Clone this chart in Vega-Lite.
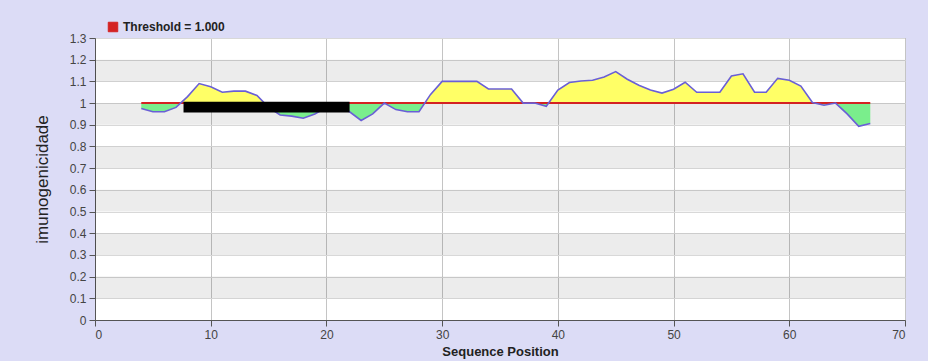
{
  "$schema": "https://vega.github.io/schema/vega-lite/v6.json",
  "autosize": {"type": "none"},
  "width": 810,
  "height": 282,
  "padding": {"left": 95, "top": 38, "right": 23, "bottom": 41},
  "background": "#dcdcf6",
  "config": {
    "font": "Liberation Sans",
    "view": {"stroke": "#6e6e6e", "strokeWidth": 1, "fill": "#ffffff"},
    "axis": {
      "labelFont": "Liberation Sans",
      "labelFontSize": 12,
      "labelColor": "#444444",
      "labelOverlap": false,
      "domainColor": "#555555",
      "tickColor": "#555555",
      "tickSize": 6,
      "gridColor": "#c4c4c4",
      "gridWidth": 1,
      "titleFont": "Liberation Sans",
      "titleColor": "#222222"
    },
    "axisY": {
      "format": "~g",
      "gridColor": "#d8d8d8",
      "titleFontSize": 17,
      "titleFontWeight": "normal",
      "titlePadding": 18,
      "labelPadding": 3
    }
  },
  "datasets": {
    "score": [
      {"pos": 4, "value": 0.975}, {"pos": 5, "value": 0.96}, {"pos": 6, "value": 0.96}, {"pos": 7, "value": 0.98},
      {"pos": 8, "value": 1.03}, {"pos": 9, "value": 1.09}, {"pos": 10, "value": 1.075}, {"pos": 11, "value": 1.05},
      {"pos": 12, "value": 1.055}, {"pos": 13, "value": 1.055}, {"pos": 14, "value": 1.035}, {"pos": 15, "value": 0.98},
      {"pos": 16, "value": 0.945}, {"pos": 17, "value": 0.94}, {"pos": 18, "value": 0.93}, {"pos": 19, "value": 0.95},
      {"pos": 20, "value": 0.98}, {"pos": 21, "value": 0.99}, {"pos": 22, "value": 0.96}, {"pos": 23, "value": 0.92},
      {"pos": 24, "value": 0.95}, {"pos": 25, "value": 1.0}, {"pos": 26, "value": 0.97}, {"pos": 27, "value": 0.96},
      {"pos": 28, "value": 0.96}, {"pos": 29, "value": 1.04}, {"pos": 30, "value": 1.1}, {"pos": 31, "value": 1.1},
      {"pos": 32, "value": 1.1}, {"pos": 33, "value": 1.1}, {"pos": 34, "value": 1.065}, {"pos": 35, "value": 1.065},
      {"pos": 36, "value": 1.065}, {"pos": 37, "value": 1.0}, {"pos": 38, "value": 1.0}, {"pos": 39, "value": 0.985},
      {"pos": 40, "value": 1.06}, {"pos": 41, "value": 1.095}, {"pos": 42, "value": 1.102}, {"pos": 43, "value": 1.105},
      {"pos": 44, "value": 1.12}, {"pos": 45, "value": 1.145}, {"pos": 46, "value": 1.11}, {"pos": 47, "value": 1.082},
      {"pos": 48, "value": 1.06}, {"pos": 49, "value": 1.046}, {"pos": 50, "value": 1.064}, {"pos": 51, "value": 1.096},
      {"pos": 52, "value": 1.05}, {"pos": 53, "value": 1.05}, {"pos": 54, "value": 1.05}, {"pos": 55, "value": 1.125},
      {"pos": 56, "value": 1.135}, {"pos": 57, "value": 1.05}, {"pos": 58, "value": 1.05}, {"pos": 59, "value": 1.114},
      {"pos": 60, "value": 1.105}, {"pos": 61, "value": 1.078}, {"pos": 62, "value": 1.003}, {"pos": 63, "value": 0.99},
      {"pos": 64, "value": 1.0}, {"pos": 65, "value": 0.95}, {"pos": 66, "value": 0.893}, {"pos": 67, "value": 0.906}
    ],
    "bands": [
      {"lo": 0.1, "hi": 0.2}, {"lo": 0.3, "hi": 0.4}, {"lo": 0.5, "hi": 0.6},
      {"lo": 0.7, "hi": 0.8}, {"lo": 0.9, "hi": 1.0}, {"lo": 1.1, "hi": 1.2}
    ]
  },
  "layer": [
    {
      "data": {"name": "bands"},
      "mark": {"type": "rect", "fill": "#000000", "fillOpacity": 0.075},
      "encoding": {
        "y": {
          "field": "lo", "type": "quantitative",
          "scale": {"domain": [0, 1.3], "nice": false, "zero": true},
          "axis": {"values": [0, 0.1, 0.2, 0.3, 0.4, 0.5, 0.6, 0.7, 0.8, 0.9, 1, 1.1, 1.2, 1.3], "grid": true, "title": "imunogenicidade"}
        },
        "y2": {"field": "hi"},
        "x": {"datum": 0, "type": "quantitative", "scale": {"domain": [0, 70], "nice": false},
          "axis": {
            "values": [0, 10, 20, 30, 40, 50, 60, 70],
            "grid": true,
            "title": "Sequence Position",
            "titleFontSize": 13,
            "titleFontWeight": "bold",
            "titlePadding": 5,
            "labelPadding": 3
          }
        },
        "x2": {"datum": 70}
      }
    },
    {
      "data": {"name": "score"},
      "mark": {
        "type": "area",
        "fill": {
          "gradient": "linear", "x1": 0, "y1": 0, "x2": 0, "y2": 1,
          "stops": [
            {"offset": 0, "color": "#ffff66"},
            {"offset": 0.5754, "color": "#ffff66"},
            {"offset": 0.5754, "color": "#7aee8c"},
            {"offset": 1, "color": "#7aee8c"}
          ]
        },
        "fillOpacity": 1
      },
      "encoding": {
        "x": {"field": "pos", "type": "quantitative", "axis": {"values": [0, 10, 20, 30, 40, 50, 60, 70], "grid": true, "title": "Sequence Position"}},
        "y": {"field": "value", "type": "quantitative", "axis": {"values": [0, 0.1, 0.2, 0.3, 0.4, 0.5, 0.6, 0.7, 0.8, 0.9, 1, 1.1, 1.2, 1.3], "grid": true, "title": "imunogenicidade"}},
        "y2": {"datum": 1}
      }
    },
    {
      "data": {"name": "score"},
      "mark": {"type": "rule", "strokeWidth": 2},
      "encoding": {
        "x": {"aggregate": "min", "field": "pos", "type": "quantitative", "axis": {"values": [0, 10, 20, 30, 40, 50, 60, 70], "grid": true, "title": "Sequence Position"}},
        "x2": {"aggregate": "max", "field": "pos"},
        "y": {"datum": 1, "type": "quantitative", "axis": {"values": [0, 0.1, 0.2, 0.3, 0.4, 0.5, 0.6, 0.7, 0.8, 0.9, 1, 1.1, 1.2, 1.3], "grid": true, "title": "imunogenicidade"}},
        "color": {
          "datum": "Threshold  = 1.000",
          "type": "nominal",
          "scale": {"range": ["#d42222"]},
          "legend": {
            "title": null,
            "orient": "none",
            "legendX": 12,
            "legendY": -17,
            "symbolType": "square",
            "symbolSize": 90,
            "symbolFillColor": "#d42222",
            "symbolStrokeColor": "#7a0000",
            "symbolStrokeWidth": 1,
            "labelFontSize": 12,
            "labelFontWeight": "bold",
            "labelColor": "#222222",
            "labelFont": "Liberation Sans"
          }
        }
      }
    },
    {
      "data": {"name": "score"},
      "mark": {"type": "line", "color": "#6a5fd6", "strokeWidth": 1.6},
      "encoding": {
        "x": {"field": "pos", "type": "quantitative", "axis": {"values": [0, 10, 20, 30, 40, 50, 60, 70], "grid": true, "title": "Sequence Position"}},
        "y": {"field": "value", "type": "quantitative", "axis": {"values": [0, 0.1, 0.2, 0.3, 0.4, 0.5, 0.6, 0.7, 0.8, 0.9, 1, 1.1, 1.2, 1.3], "grid": true, "title": "imunogenicidade"}}
      }
    },
    {
      "data": {"values": [{}]},
      "mark": {"type": "rect", "fill": "#000000"},
      "encoding": {
        "x": {"datum": 7.65, "type": "quantitative", "axis": {"values": [0, 10, 20, 30, 40, 50, 60, 70], "grid": true, "title": "Sequence Position"}},
        "x2": {"datum": 22.0},
        "y": {"datum": 0.956, "type": "quantitative", "axis": {"values": [0, 0.1, 0.2, 0.3, 0.4, 0.5, 0.6, 0.7, 0.8, 0.9, 1, 1.1, 1.2, 1.3], "grid": true, "title": "imunogenicidade"}},
        "y2": {"datum": 1.006}
      }
    }
  ]
}
